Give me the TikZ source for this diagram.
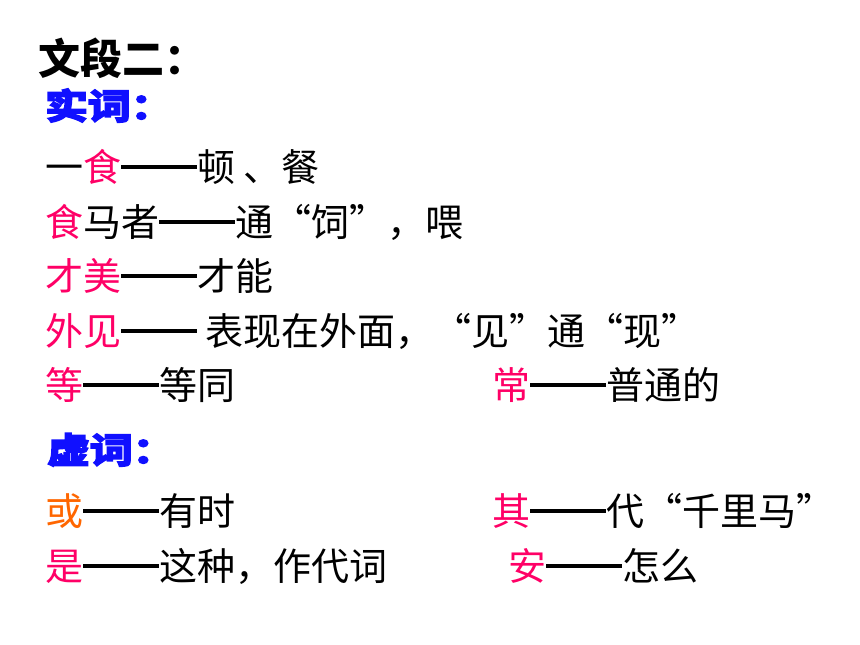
\documentclass[tikz,border=0pt]{standalone}
\usepackage{fontspec}
\setmainfont{Noto Sans CJK SC}
\newfontfamily\headfont[FakeBold=5]{Noto Sans CJK SC Bold}
\usepackage{xcolor}
\usepackage{tikz}
\definecolor{keyred}{HTML}{FF0066}
\definecolor{keyorange}{HTML}{FF6600}
\definecolor{headblue}{HTML}{1010FF}
\newcommand{\longdash}{\rule[0.32em]{2em}{3.6pt}}

\begin{document}
\begin{tikzpicture}[
            x = 1pt, y = -1pt,
            every node/.append style = {anchor = base west, inner sep = 0pt},
            body/.style = {font = \fontsize{38}{38}\selectfont},
            head/.style = {font = \fontsize{35}{35}\headfont, text = headblue, xscale = 1.22}]
            \useasboundingbox (0,0) rectangle (860,645);
            \node[font = \fontsize{42}{42}\selectfont\bfseries] (title) at (38,74) {文段二：};
            \node[head] (shici) at (45,119) {实词：};
            \node[body] (shi) at (45,181) {一{\color{keyred}食}\longdash 顿\ 、餐};
            \node[body] (siyang) at (45,236) {{\color{keyred}食}马者\longdash 通“饲”，喂};
            \node[body] (caimei) at (45,290) {{\color{keyred}才美}\longdash 才能};
            \node[body] (waixian) at (45,345) {{\color{keyred}外见}\longdash\ 表现在外面，“见”通“现”};
            \node[body] (deng) at (45,399) {{\color{keyred}等}\longdash 等同};
            \node[body] (chang) at (492,399) {{\color{keyred}常}\longdash 普通的};
            \node[head] (xuci) at (47,463) {虚词：};
            \node[body] (huo) at (45,525) {{\color{keyorange}或}\longdash 有时};
            \node[body] (qi) at (492,525) {{\color{keyred}其}\longdash 代“千里马”};
            \node[body] (shizhong) at (45,580) {{\color{keyred}是}\longdash 这种，作代词};
            \node[body] (an) at (508,580) {{\color{keyred}安}\longdash 怎么};
        \end{tikzpicture}
\end{document}
